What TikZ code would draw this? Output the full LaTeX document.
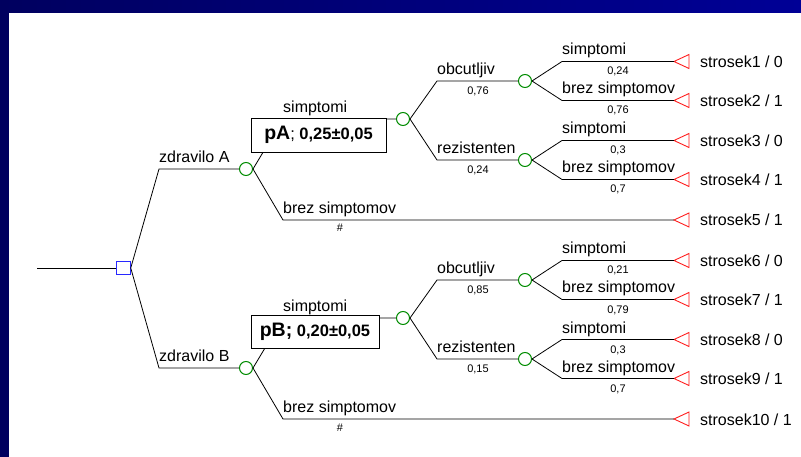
\documentclass[tikz,border=0pt]{standalone}
\usepackage{fontspec}
\setmainfont{Liberation Sans}
\definecolor{cgreen}{RGB}{0,140,0}
\definecolor{cblue}{RGB}{40,40,255}
\definecolor{cred}{RGB}{255,30,30}
\definecolor{navyL}{RGB}{0,0,95}
\definecolor{navyR}{RGB}{0,0,150}
\newcommand{\termnode}[3]{%
  \coordinate (#1) at (674,#2);
  \draw[term] (#1) -- ++(15,-7) -- ++(0,14) -- cycle;
  \node[cost] (#1txt) at (700,#2+6) {#3};}
\begin{document}
\begin{tikzpicture}[x=1pt,y=-1pt,
  conn/.style={draw=black, line width=0.8pt},
  chance/.style={circle, draw=cgreen, line width=1pt, fill=white, minimum size=13pt, inner sep=0pt},
  decision/.style={rectangle, draw=cblue, line width=1pt, fill=white, minimum size=13.5pt, inner sep=0pt},
  lbl/.style={font=\fontsize{16}{18}\selectfont, anchor=base west, inner sep=0pt},
  prob/.style={font=\fontsize{11}{13}\selectfont, anchor=base, inner sep=0pt},
  term/.style={draw=cred, line width=0.9pt},
  cost/.style={font=\fontsize{16}{18}\selectfont, anchor=base west, inner sep=0pt},
  pbox/.style={draw=black, fill=white, line width=0.8pt, inner sep=0pt}
]
\useasboundingbox (0,0) rectangle (801,457);
\fill[white] (0,0) rectangle (801,457);
\shade[left color=navyL, right color=navyR] (0,0) rectangle (801,12.5);
\fill[navyL] (0,0) rectangle (8.5,457);

% decision node
\coordinate (root) at (37,268);
\node[decision] (dec) at (123.5,268) {};
\draw[conn] (root) -- (dec.west);

% ---------------- upper half ----------------
\node[chance] (cA) at (246,169) {};
\node[chance] (c2A) at (403,119) {};
\node[chance] (c3A) at (525,81) {};
\node[chance] (c4A) at (525,160) {};
\termnode{t1}{61.5}{strosek1 / 0}
\termnode{t2}{100.5}{strosek2 / 1}
\termnode{t3}{140.5}{strosek3 / 0}
\termnode{t4}{179.5}{strosek4 / 1}
\termnode{t5}{220}{strosek5 / 1}

\draw[conn] (dec.east) -- (159,169) -- (cA.west);
\node[lbl] (lzA) at (159,162.5) {zdravilo A};

\draw[conn] (cA.east) -- (283,119) -- (c2A.west);
\node[lbl] (lsA) at (283,112.5) {simptomi};
\node[pbox, minimum width=135pt, minimum height=34pt] (pA) at (318.5,135.2)
  {\fontsize{19.5}{20}\selectfont\bfseries pA\fontsize{16.5}{18}\selectfont\mdseries; \bfseries 0,25±0,05};

\draw[conn] (cA.east) -- (283,220) -- (t5);
\node[lbl] (lbA) at (283,213.5) {brez simptomov};
\node[prob] (hA) at (340,232) {\#};

\draw[conn] (c2A.east) -- (437,81) -- (c3A.west);
\node[lbl] (loA) at (437,74.5) {obcutljiv};
\node[prob] (poA) at (478,94.5) {0,76};
\draw[conn] (c2A.east) -- (437,160) -- (c4A.west);
\node[lbl] (lrA) at (437,153.5) {rezistenten};
\node[prob] (prA) at (478,173.5) {0,24};

\draw[conn] (c3A.east) -- (562,61.5) -- (t1);
\node[lbl] at (562,55) {simptomi};
\node[prob] at (618,75) {0,24};
\draw[conn] (c3A.east) -- (562,100.5) -- (t2);
\node[lbl] at (562,94) {brez simptomov};
\node[prob] at (618,114) {0,76};
\draw[conn] (c4A.east) -- (562,140.5) -- (t3);
\node[lbl] at (562,134) {simptomi};
\node[prob] at (618,154) {0,3};
\draw[conn] (c4A.east) -- (562,179.5) -- (t4);
\node[lbl] at (562,173) {brez simptomov};
\node[prob] at (618,193) {0,7};

% ---------------- lower half ----------------
\node[chance] (cB) at (246,368) {};
\node[chance] (c2B) at (403,318) {};
\node[chance] (c3B) at (525,280) {};
\node[chance] (c4B) at (525,359) {};
\termnode{t6}{260.5}{strosek6 / 0}
\termnode{t7}{299.5}{strosek7 / 1}
\termnode{t8}{339.5}{strosek8 / 0}
\termnode{t9}{378.5}{strosek9 / 1}
\termnode{t10}{419}{strosek10 / 1}

\draw[conn] (dec.east) -- (159,368) -- (cB.west);
\node[lbl] (lzB) at (159,361.5) {zdravilo B};

\draw[conn] (cB.east) -- (283,318) -- (c2B.west);
\node[lbl] (lsB) at (283,311.5) {simptomi};
\node[pbox, minimum width=128pt, minimum height=33pt] (pB) at (315,331.5)
  {\bfseries\fontsize{19.5}{20}\selectfont pB;\fontsize{16.5}{18}\selectfont{} 0,20±0,05};

\draw[conn] (cB.east) -- (283,419) -- (t10);
\node[lbl] (lbB) at (283,412.5) {brez simptomov};
\node[prob] (hB) at (340,431) {\#};

\draw[conn] (c2B.east) -- (437,280) -- (c3B.west);
\node[lbl] (loB) at (437,273.5) {obcutljiv};
\node[prob] (poB) at (478,293.5) {0,85};
\draw[conn] (c2B.east) -- (437,359) -- (c4B.west);
\node[lbl] (lrB) at (437,352.5) {rezistenten};
\node[prob] (prB) at (478,372.5) {0,15};

\draw[conn] (c3B.east) -- (562,260.5) -- (t6);
\node[lbl] at (562,254) {simptomi};
\node[prob] at (618,274) {0,21};
\draw[conn] (c3B.east) -- (562,299.5) -- (t7);
\node[lbl] at (562,293) {brez simptomov};
\node[prob] at (618,313) {0,79};
\draw[conn] (c4B.east) -- (562,339.5) -- (t8);
\node[lbl] at (562,333) {simptomi};
\node[prob] at (618,353) {0,3};
\draw[conn] (c4B.east) -- (562,378.5) -- (t9);
\node[lbl] at (562,372) {brez simptomov};
\node[prob] at (618,392) {0,7};
\end{tikzpicture}
\end{document}
